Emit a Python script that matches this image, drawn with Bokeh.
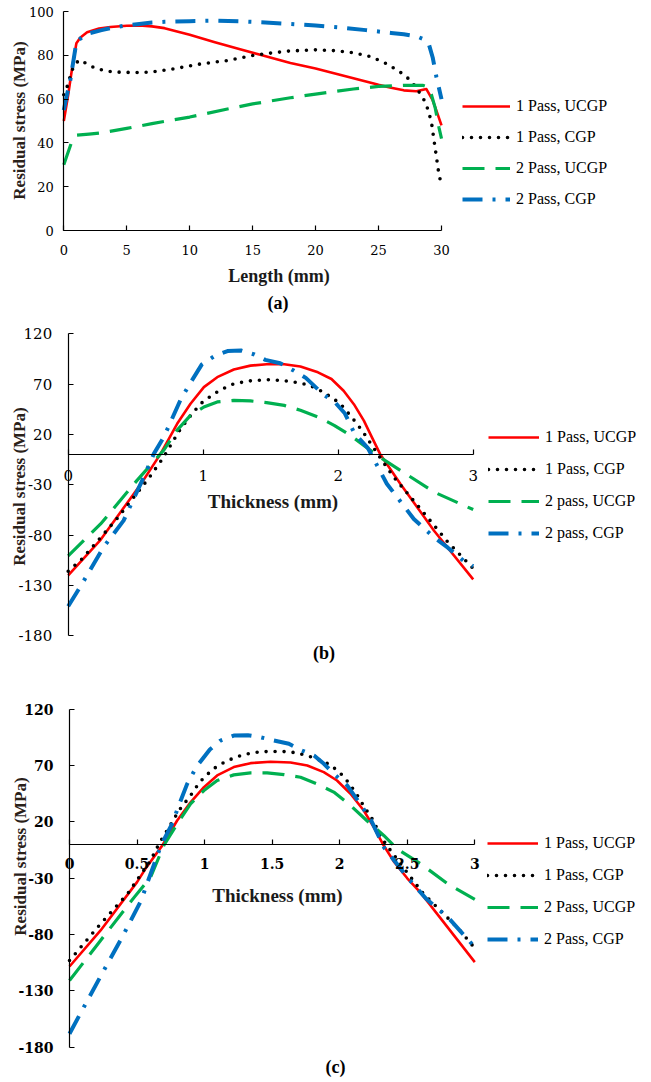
from bokeh.plotting import figure
from bokeh.models import (Range1d, FixedTicker, Legend, LegendItem, Label, LabelSet,
                          LinearAxis, ColumnDataSource, CustomJSTickFormatter)
from bokeh.core.properties import value
from bokeh.layouts import column
from bokeh.embed import file_html
from bokeh.resources import INLINE

SERIF = "Liberation Serif"
NUM = "DejaVu Serif"

# ---------------- data: panel (a) residual stress vs length ----------------
a_x_1p_ucgp = [0, 0.35, 0.67, 1.0, 1.3, 1.85, 2.8, 3.7, 5.0, 6.0, 7.0, 8.0, 10, 12, 14, 15.6, 18, 20, 22, 24, 25, 26, 27, 28, 28.8, 29.3, 29.7, 30]
a_y_1p_ucgp = [50, 62, 74.5, 85.5, 88, 90.5, 92.2, 92.9, 93.5, 93.6, 93.2, 92.4, 89.4, 86, 82.8, 80.2, 76.5, 74, 71, 68, 66.5, 65.2, 64, 63.6, 64.6, 59.5, 53, 48]
a_x_1p_cgp = [0, 0.2, 0.4, 0.6, 0.85, 1.25, 1.85, 2.5, 3.2, 3.9, 5, 6, 7, 8.7, 10.9, 13, 15, 16.4, 17.8, 19.9, 21.3, 22.7, 24.1, 25.4, 26.6, 27.2, 27.7, 28.1, 28.5, 28.8, 29.0, 29.2, 29.4, 29.6, 29.8, 30]
a_y_1p_cgp = [62, 64.5, 68.2, 72.3, 75.8, 77.9, 76.1, 74.1, 73.1, 72.4, 72.2, 72.1, 72.4, 73.8, 76.1, 77.6, 79.9, 81, 81.9, 82.5, 82.2, 81.4, 79.9, 76.9, 72.8, 70.3, 67.4, 64.2, 60.9, 57.4, 53.6, 49.5, 41.4, 33.5, 25.4, 21]
a_x_2p_ucgp = [0, 0.3, 0.6, 1.0, 2, 3, 5, 7, 10, 13, 15, 18, 20, 23, 25, 27, 28.5, 28.9, 29.2, 29.5, 29.8, 30]
a_y_2p_ucgp = [30, 35, 40, 43.5, 44, 44.6, 46.6, 48.8, 51.8, 55.5, 57.8, 60.6, 62.3, 64.6, 65.8, 66.3, 66.3, 65.5, 62, 56, 47, 42]
a_x_2p_cgp = [0, 0.25, 0.5, 0.75, 1.0, 1.5, 2, 3, 4, 5, 6, 7, 8, 10, 12, 14, 16, 18, 20, 22, 24, 26, 27, 28, 28.6, 29, 29.3, 29.6, 30]
a_y_2p_cgp = [55, 62, 68, 77, 86, 88.5, 90, 91.5, 92.8, 93.7, 94.3, 95, 95.3, 95.6, 95.8, 95.5, 95, 94.3, 93.6, 92.7, 91.5, 90.2, 89.6, 88.7, 87.3, 85, 79, 70, 60]
a_xticks = [0, 5, 10, 15, 20, 25, 30]
a_yticks = [0, 20, 40, 60, 80, 100]
a_labels = ["1 Pass, UCGP", "1 Pass, CGP", "2 Pass, UCGP", "2 Pass, CGP"]

# ---------------- data: panel (b) residual stress vs thickness ----------------
b_x_1p_ucgp = [0, 0.24, 0.54, 0.684, 0.807, 0.906, 1.005, 1.104, 1.227, 1.35, 1.47, 1.6, 1.72, 1.85, 1.95, 2.04, 2.116, 2.19, 2.25, 2.31, 2.46, 2.71, 3]
b_y_1p_ucgp = [-120, -84.7, -29, 0.6, 30.5, 50.4, 66.9, 76.8, 84.4, 88.3, 89.6, 89.6, 87.4, 81.6, 75, 63.3, 50, 33.6, 17, 0.6, -29, -75.7, -124]
b_x_1p_cgp = [0, 0.1, 0.36, 0.6, 0.7, 0.82, 0.894, 0.98, 1.08, 1.2, 1.33, 1.46, 1.52, 1.65, 1.78, 1.89, 2.012, 2.1, 2.177, 2.25, 2.3, 2.41, 2.61, 2.81, 3]
b_y_1p_cgp = [-116, -104, -64, -23, -4, 22.9, 36.5, 50.4, 60.3, 69.2, 73, 74.2, 74.2, 72.5, 69.2, 62, 51, 37.1, 23.8, 9, -1, -22.3, -54, -86.7, -113.3]
b_x_2p_ucgp = [0, 0.24, 0.51, 0.708, 0.807, 0.906, 1.005, 1.104, 1.227, 1.35, 1.47, 1.6, 1.72, 1.85, 1.97, 2.09, 2.19, 2.29, 2.46, 2.71, 3]
b_y_2p_ucgp = [-100.7, -69, -25.7, 4.3, 24.2, 38.9, 47.2, 52.2, 53.8, 53.2, 51.5, 48.8, 43.9, 37.3, 29, 19, 9.1, -1, -15.7, -37.3, -54.7]
b_x_2p_cgp = [0, 0.1, 0.26, 0.41, 0.56, 0.634, 0.708, 0.832, 0.9, 0.99, 1.09, 1.18, 1.28, 1.38, 1.46, 1.57, 1.67, 1.76, 1.89, 1.98, 2.05, 2.12, 2.22, 2.36, 2.56, 2.71, 2.81, 2.93, 3]
b_y_2p_cgp = [-150.7, -129, -92.3, -65.7, -22.3, 0.6, 17.2, 54.3, 70, 89.5, 98.4, 102.7, 103.3, 99.3, 94, 90.7, 83.4, 76.1, 59.6, 51.3, 40.7, 21, 6.3, -29, -64, -82.3, -92.3, -105.7, -111]
b_xticks = [0, 1, 2, 3]
b_yticks = [-180, -130, -80, -30, 20, 70, 120]
b_labels = ["1 Pass, UCGP", "1 Pass, CGP", "2 pass, UCGP", "2 pass, CGP"]

# ---------------- data: panel (c) residual stress vs thickness ----------------
c_x_1p_ucgp = [0, 0.23, 0.5, 0.57, 0.686, 0.797, 0.896, 0.995, 1.093, 1.216, 1.34, 1.488, 1.636, 1.76, 1.882, 1.98, 2.08, 2.178, 2.252, 2.326, 2.4, 2.5, 2.6, 2.75, 3]
c_y_1p_ucgp = [-108.3, -76.3, -33.4, -20.1, -1, 21.3, 37.4, 50.9, 61.3, 68.7, 72.2, 73.4, 72.8, 70.1, 64.2, 56.8, 45, 30.2, 15.4, -0.9, -15, -30, -43, -66, -104.4]
c_x_1p_cgp = [0, 0.23, 0.43, 0.6, 0.669, 0.735, 0.81, 0.896, 0.964, 1.056, 1.113, 1.172, 1.236, 1.298, 1.36, 1.42, 1.488, 1.553, 1.617, 1.68, 1.81, 1.932, 2.03, 2.116, 2.18, 2.248, 2.3, 2.34, 2.45, 2.62, 2.77, 2.89, 3]
c_y_1p_cgp = [-103, -70.4, -43.8, -14.2, 2.1, 14.8, 30.2, 43.5, 55.4, 66.4, 70.8, 74.6, 77.6, 80, 81.4, 82.3, 82.6, 82.6, 82.3, 81.4, 77, 70.7, 60.4, 46.5, 33.8, 21.3, 8, 0.6, -17.2, -43.8, -61.5, -76.3, -92]
c_x_2p_ucgp = [0, 0.23, 0.48, 0.6, 0.698, 0.797, 0.896, 0.995, 1.093, 1.216, 1.34, 1.463, 1.587, 1.71, 1.833, 1.956, 2.08, 2.2, 2.326, 2.425, 2.6, 2.8, 3]
c_y_2p_ucgp = [-120.7, -85.2, -46.7, -29, -0.9, 18.3, 36, 47.9, 56.8, 61.8, 63.6, 63.6, 62.1, 59.7, 53.8, 46.5, 34.6, 21.3, 8, -3.9, -17.2, -34.9, -48.8]
c_x_2p_cgp = [0, 0.094, 0.24, 0.39, 0.53, 0.6, 0.68, 0.76, 0.81, 0.871, 0.94, 1.039, 1.118, 1.216, 1.32, 1.414, 1.512, 1.624, 1.72, 1.81, 1.883, 1.97, 2.055, 2.14, 2.23, 2.33, 2.5, 2.64, 2.8, 3]
c_y_2p_cgp = [-168, -147, -114.8, -82.2, -49.7, -26, 0, 18.4, 35, 53.8, 69, 84.3, 92.3, 96.7, 97, 95.2, 92.3, 89.4, 83.4, 79, 71.6, 61.3, 52.4, 38, 22, -3, -29, -48.2, -64.5, -91.1]
c_xticks = [0, 0.5, 1, 1.5, 2, 2.5, 3]
c_yticks = [-180, -130, -80, -30, 20, 70, 120]
c_labels = ["1 Pass, UCGP", "1 Pass, CGP", "2 Pass, UCGP", "2 Pass, CGP"]

STYLES = [
    dict(line_color="#FF0000", line_width=2.6),
    dict(line_color="#000000", line_width=3.6, line_dash="0 9", line_cap="round"),
    dict(line_color="#00B050", line_width=3.2, line_dash="22 11"),
    dict(line_color="#0070C0", line_width=4, line_dash="20 10 3 10"),
]

W = 645


def fmt(v):
    return f"{v:g}"


def blank_axis(loc, ticks, bounds):
    # axis line and inward tick marks; its numbers are drawn by a LabelSet
    return LinearAxis(fixed_location=loc, ticker=FixedTicker(ticks=ticks), bounds=bounds,
                      formatter=CustomJSTickFormatter(code="return ''"),
                      major_label_text_font_size="0px", major_label_standoff=0,
                      axis_line_color="black", axis_line_width=1.2,
                      major_tick_line_color="black", major_tick_line_width=1.2,
                      major_tick_in=5, major_tick_out=0, minor_tick_line_color=None)


def build(series, labels, H, ox, oy, sx, sy, xticks, yticks,
          tick_size, tick_style, ylab_dx, xlab_dy,
          leg_left, leg_row1, glyph_w, row_sp, ytitle_c, xtitle, xtitle_c, xtitle_size,
          tag, tag_c):
    p = figure(frame_width=W, frame_height=H,
               x_range=Range1d(-ox / sx, (W - ox) / sx),
               y_range=Range1d(-(H - oy) / sy, oy / sy),
               x_axis_location=None, y_axis_location=None,
               min_border_left=0, min_border_right=0, min_border_top=0, min_border_bottom=0,
               output_backend="svg", toolbar_location=None)
    p.outline_line_color = None
    p.grid.visible = False
    p.background_fill_color = "white"
    p.border_fill_color = "white"

    p.add_layout(blank_axis(0, xticks, (min(xticks), max(xticks))), "below")
    p.add_layout(blank_axis(0, yticks, (min(yticks), max(yticks))), "left")

    ysrc = ColumnDataSource(dict(x=[0] * len(yticks), y=yticks, text=[fmt(t) for t in yticks]))
    p.add_layout(LabelSet(x="x", y="y", text="text", source=ysrc, x_offset=ylab_dx,
                          text_align="right", text_baseline="middle",
                          text_font=value(NUM), text_font_size=tick_size,
                          text_font_style=tick_style, text_color="black"))
    xsrc = ColumnDataSource(dict(x=xticks, y=[0] * len(xticks), text=[fmt(t) for t in xticks]))
    p.add_layout(LabelSet(x="x", y="y", text="text", source=xsrc, y_offset=xlab_dy,
                          text_align="center", text_baseline="top",
                          text_font=value(NUM), text_font_size=tick_size,
                          text_font_style=tick_style, text_color="black"))

    items = []
    for (xs, ys), lab, st in zip(series, labels, STYLES):
        r = p.line(xs, ys, line_join="round", **st)
        items.append(LegendItem(label=lab, renderers=[r]))

    pad, row_h = 5, 28
    leg_h = 2 * pad + 4 * row_h + 3 * row_sp
    top = leg_row1 - pad - row_h / 2
    leg = Legend(items=items, location=(leg_left - pad, H - (top + leg_h)),
                 margin=0, padding=pad,
                 glyph_width=glyph_w, glyph_height=row_h, label_height=row_h,
                 spacing=row_sp, label_standoff=6,
                 label_text_font=SERIF, label_text_font_size="16px",
                 label_text_color="black",
                 background_fill_alpha=0, border_line_alpha=0)
    p.add_layout(leg, "center")

    p.add_layout(Label(x=ytitle_c[0], y=H - ytitle_c[1], x_units="screen", y_units="screen",
                       text="Residual stress (MPa)", angle=90, angle_units="deg",
                       text_align="center", text_baseline="middle",
                       text_font=SERIF, text_font_size="17px", text_font_style="bold",
                       text_color="#2a2119"))
    p.add_layout(Label(x=xtitle_c[0], y=H - xtitle_c[1], x_units="screen", y_units="screen",
                       text=xtitle, text_align="center", text_baseline="middle",
                       text_font=SERIF, text_font_size=xtitle_size, text_font_style="bold",
                       text_color="#1a1a1a"))
    p.add_layout(Label(x=tag_c[0], y=H - tag_c[1], x_units="screen", y_units="screen",
                       text=tag, text_align="center", text_baseline="middle",
                       text_font=SERIF, text_font_size="18px", text_font_style="bold",
                       text_color="black"))
    return p


# layout positions below are pixels from each figure's top-left corner
pa = build(
    [(a_x_1p_ucgp, a_y_1p_ucgp), (a_x_1p_cgp, a_y_1p_cgp), (a_x_2p_ucgp, a_y_2p_ucgp), (a_x_2p_cgp, a_y_2p_cgp)],
    a_labels, H=322, ox=63.3, oy=230, sx=12.59, sy=2.19, xticks=a_xticks, yticks=a_yticks,
    tick_size="13px", tick_style="normal", ylab_dx=-10, xlab_dy=-14,
    leg_left=462, leg_row1=106, glyph_w=48, row_sp=3,
    ytitle_c=(19, 120), xtitle="Length (mm)", xtitle_c=(278.5, 275.5), xtitle_size="18px",
    tag="(a)", tag_c=(277.5, 302))

pb = build(
    [(b_x_1p_ucgp, b_y_1p_ucgp), (b_x_1p_cgp, b_y_1p_cgp), (b_x_2p_ucgp, b_y_2p_ucgp), (b_x_2p_cgp, b_y_2p_cgp)],
    b_labels, H=377, ox=67.7, oy=132, sx=135, sy=1.00667, xticks=b_xticks, yticks=b_yticks,
    tick_size="15px", tick_style="normal", ylab_dx=-16, xlab_dy=-15,
    leg_left=488, leg_row1=115, glyph_w=51, row_sp=4,
    ytitle_c=(19, 164), xtitle="Thickness (mm)", xtitle_c=(272.5, 179), xtitle_size="19px",
    tag="(b)", tag_c=(323.5, 330.5))

pc = build(
    [(c_x_1p_ucgp, c_y_1p_ucgp), (c_x_1p_cgp, c_y_1p_cgp), (c_x_2p_ucgp, c_y_2p_ucgp), (c_x_2p_cgp, c_y_2p_cgp)],
    c_labels, H=381, ox=69, oy=145, sx=135.1, sy=1.12667, xticks=c_xticks, yticks=c_yticks,
    tick_size="14px", tick_style="bold", ylab_dx=-16, xlab_dy=-13,
    leg_left=487, leg_row1=144, glyph_w=51, row_sp=4,
    ytitle_c=(19.5, 157), xtitle="Thickness (mm)", xtitle_c=(277, 195.5), xtitle_size="19px",
    tag="(c)", tag_c=(335, 367))

layout = column(pa, pb, pc, spacing=0)
open("out.html", "w").write(file_html(layout, INLINE))
